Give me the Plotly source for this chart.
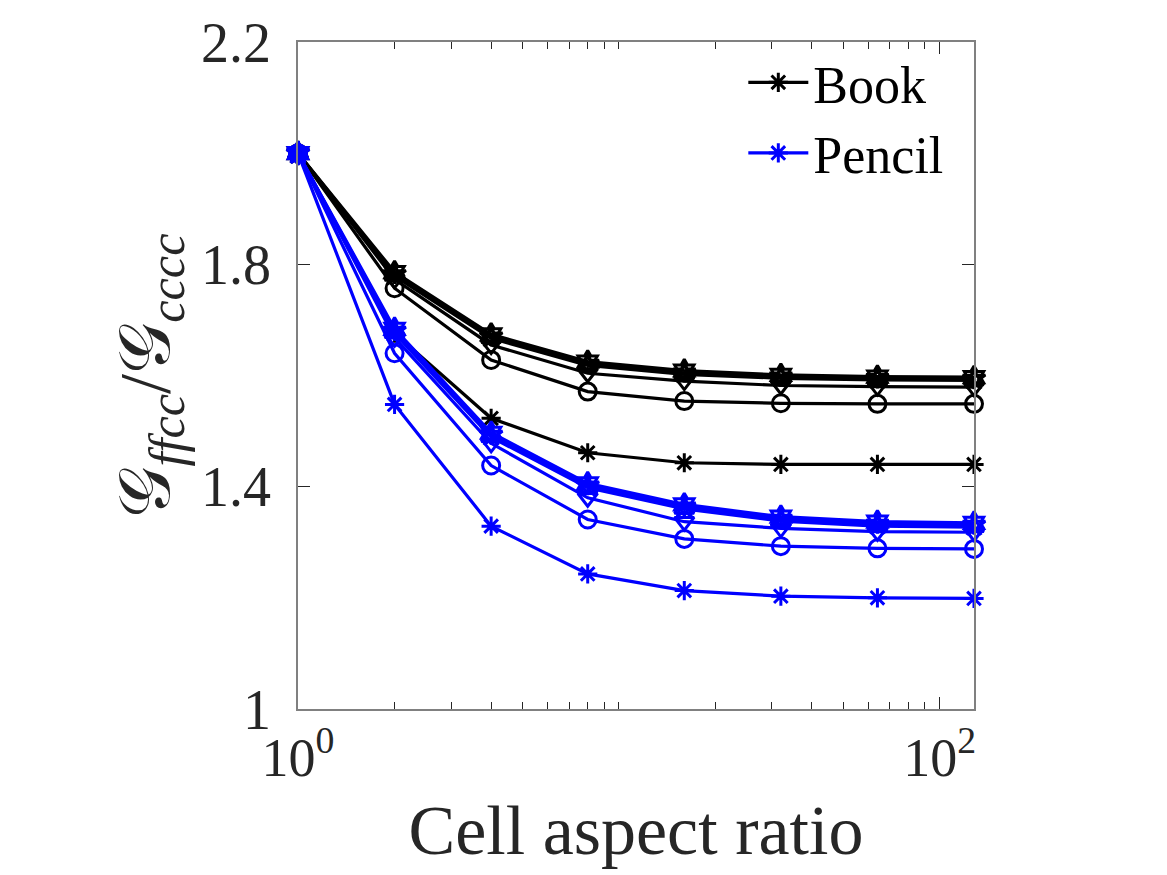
import plotly.graph_objects as go

aspect = [1, 2, 4, 8, 16, 32, 64, 128]

# Book (black)
book_ast = [2.0, 1.676, 1.523, 1.461, 1.443, 1.440, 1.440, 1.440]
book_circ = [2.0, 1.757, 1.628, 1.571, 1.554, 1.550, 1.549, 1.549]
book_tdn = [2.0, 1.773, 1.655, 1.604, 1.590, 1.582, 1.580, 1.579]
book_tup = [2.0, 1.779, 1.667, 1.618, 1.602, 1.595, 1.592, 1.591]
book_pent = [2.0, 1.782, 1.670, 1.621, 1.605, 1.598, 1.595, 1.594]
book_hex = [2.0, 1.786, 1.674, 1.625, 1.609, 1.601, 1.598, 1.597]

# Pencil (blue)
pen_ast = [2.0, 1.548, 1.329, 1.243, 1.213, 1.203, 1.200, 1.199]
pen_circ = [2.0, 1.640, 1.438, 1.341, 1.306, 1.293, 1.289, 1.288]
pen_tdn = [2.0, 1.668, 1.478, 1.380, 1.337, 1.325, 1.319, 1.318]
pen_tup = [2.0, 1.676, 1.489, 1.398, 1.360, 1.338, 1.329, 1.327]
pen_pent = [2.0, 1.680, 1.493, 1.402, 1.364, 1.342, 1.333, 1.331]
pen_hex = [2.0, 1.684, 1.497, 1.406, 1.368, 1.346, 1.337, 1.335]

y_ticks = [1, 1.4, 1.8, 2.2]
y_ticktext = ["1", "1.4", "1.8", "2.2"]
x_ticks = [1, 100]
x_ticktext = ["10<sup>0</sup>", "10<sup>2</sup>"]
x_minor = [2, 3, 4, 5, 6, 7, 8, 9, 10, 20, 30, 40, 50, 60, 70, 80, 90]

FONT = "Liberation Serif"
TXT = "#262626"

groups = [
    ("Book", "black", [book_ast, book_circ, book_tdn, book_tup, book_pent, book_hex]),
    ("Pencil", "blue", [pen_ast, pen_circ, pen_tdn, pen_tup, pen_pent, pen_hex]),
]
symbols = ["asterisk-open", "circle-open", "triangle-down-open",
           "triangle-up-open", "star-open", "hexagram-open"]

fig = go.Figure()
for name, color, series in groups:
    for i, (ys, sym) in enumerate(zip(series, symbols)):
        fig.add_trace(go.Scatter(
            x=aspect, y=ys, mode="lines+markers", name=name,
            showlegend=(i == 0), legendgroup=name,
            line=dict(color=color, width=3.2),
            marker=dict(symbol=sym, size=17 if sym != "asterisk-open" else 16,
                        color=color, line=dict(color=color, width=3)),
            cliponaxis=False,
        ))

fig.update_layout(
    width=1167, height=875,
    margin=dict(l=298, r=193, t=35, b=166),
    paper_bgcolor="white", plot_bgcolor="white",
    font=dict(family=FONT, color=TXT, size=54),
    showlegend=True,
    legend=dict(x=0.962, y=1.0, xanchor="right", yanchor="top",
                bgcolor="rgba(0,0,0,0)", font=dict(size=52, color="black", family=FONT),
                itemwidth=60, tracegroupgap=0),
)
fig.update_xaxes(
    type="log", range=[0, 2.10721], tickvals=x_ticks, ticktext=x_ticktext,
    ticks="inside", ticklen=12, tickwidth=1.2, tickcolor=TXT,
    showline=True, linecolor="#808080", linewidth=1.5, mirror="allticks",
    showgrid=False, zeroline=False,
    tickfont=dict(size=54, family=FONT, color=TXT),
    minor=dict(tickvals=x_minor, ticks="inside", ticklen=7, tickwidth=1.2, tickcolor=TXT, showgrid=False),
    title=dict(text="Cell aspect ratio", font=dict(size=70, family=FONT, color=TXT), standoff=18),
)
fig.update_yaxes(
    range=[1, 2.2], tickvals=y_ticks, ticktext=y_ticktext,
    ticks="inside", ticklen=12, tickwidth=1.2, tickcolor=TXT,
    showline=True, linecolor="#808080", linewidth=1.5, mirror="allticks",
    showgrid=False, zeroline=False,
    tickfont=dict(size=56, family=FONT, color=TXT),
    ticklabelstandoff=14,
    title=dict(text="𝒢<sub><i>ffcc</i></sub>/𝒢<sub><i>cccc</i></sub>",
               font=dict(size=72, family=FONT, color=TXT), standoff=8),
)
fig.write_html("out.html")
